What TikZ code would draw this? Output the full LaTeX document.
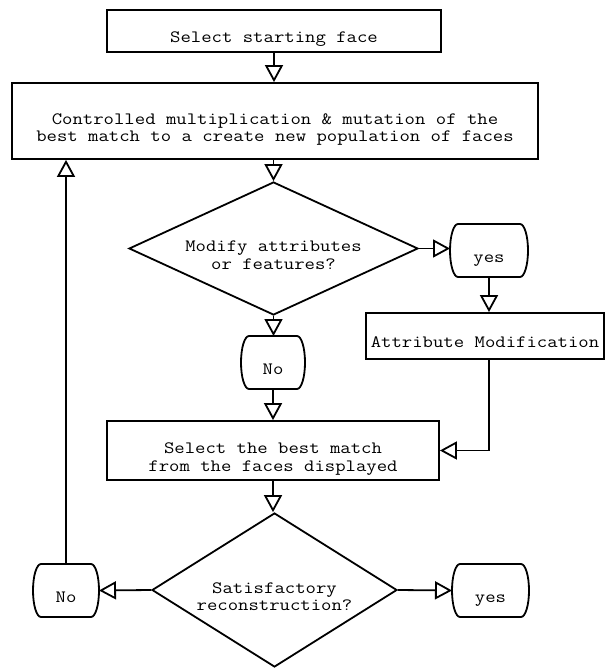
\documentclass[tikz,border=0pt]{standalone}
\usepackage{fontspec}
\setmonofont[FakeStretch=1.165]{Latin Modern Mono}
\usetikzlibrary{arrows.meta,shapes.geometric}
\newcommand{\lowtxt}[1]{\raisebox{-8.5pt}[\height][\depth]{\begin{tabular}{@{}c@{}}#1\end{tabular}}}
\newcommand{\termline}[1]{%
  \draw[link] ([xshift=8pt]#1.north west) -- ([xshift=-8pt]#1.north east)
    .. controls ([xshift=-3.6pt]#1.north east) and ([yshift=14.6pt]#1.east) .. (#1.east)
    .. controls ([yshift=-14.6pt]#1.east) and ([xshift=-3.6pt]#1.south east) .. ([xshift=-8pt]#1.south east)
    -- ([xshift=8pt]#1.south west)
    .. controls ([xshift=3.6pt]#1.south west) and ([yshift=-14.6pt]#1.west) .. (#1.west)
    .. controls ([yshift=14.6pt]#1.west) and ([xshift=3.6pt]#1.north west) .. cycle;}
\begin{document}
\begin{tikzpicture}[x=1pt,y=-1pt,
  every node/.style={font=\ttfamily\fontsize{17.3}{17.3}\selectfont, inner sep=0pt, line width=1.8pt},
  proc/.style={draw, rectangle},
  dec/.style={draw, diamond},
  term/.style={rectangle, outer sep=0pt},
  flow/.style={line width=1.8pt, -{Triangle[open,length=17pt,width=18pt,line width=1.8pt]}},
  link/.style={line width=1.8pt, line join=round}
]
\useasboundingbox (0,0) rectangle (606,668);
\node[proc, minimum width=334pt, minimum height=42pt] (b1) at (274,31) {\lowtxt{Select starting face}};
\node[proc, minimum width=526pt, minimum height=76pt] (b2) at (275,121) {\lowtxt{Controlled multiplication \& mutation of the\\best match to a create new population of faces}};
\node[dec, aspect=2.2, minimum width=289pt, minimum height=133pt] (d1) at (273.5,248.5) {\lowtxt{Modify attributes\\ or features?}};
\node[term, minimum width=78pt, minimum height=53pt] (y1) at (489,250.5) {\lowtxt{yes}};
\node[proc, minimum width=238pt, minimum height=46pt] (am) at (485,336) {\lowtxt{Attribute Modification}};
\node[term, minimum width=64pt, minimum height=53pt] (n1) at (273,362.5) {\lowtxt{No}};
\node[proc, minimum width=332pt, minimum height=59pt] (b3) at (273,450.5) {\lowtxt{Select the best match\\from the faces displayed}};
\node[dec, aspect=1.6, minimum width=245pt, minimum height=154pt] (d2) at (274.5,590) {\lowtxt{Satisfactory\\reconstruction?}};
\node[term, minimum width=66pt, minimum height=53pt] (n2) at (66,590.5) {\lowtxt{No}};
\node[term, minimum width=77pt, minimum height=53pt] (y2) at (490.5,590.5) {\lowtxt{yes}};
\termline{y1}
\termline{n1}
\termline{n2}
\termline{y2}

\draw[flow] (b1.south) -- (b1.south |- b2.north);
\draw[flow] (b2.south -| d1.north) -- (d1.north);
\draw[flow] (d1.east) -- (d1.east -| y1.west);
\draw[flow] (y1.south) -- (y1.south |- am.north);
\draw[flow] (d1.south) -- (d1.south |- n1.north);
\draw[flow] (n1.south) -- (n1.south |- b3.north);
\draw[flow] (am.south -| y1.south) |- (b3.east);
\draw[flow] (b3.south) -- (b3.south |- d2.north);
\draw[flow] (d2.west) -- (n2.east);
\draw[flow] (d2.east) -- (y2.west);
\draw[flow] (n2.north) -- (n2.north |- b2.south);
\end{tikzpicture}
\end{document}
